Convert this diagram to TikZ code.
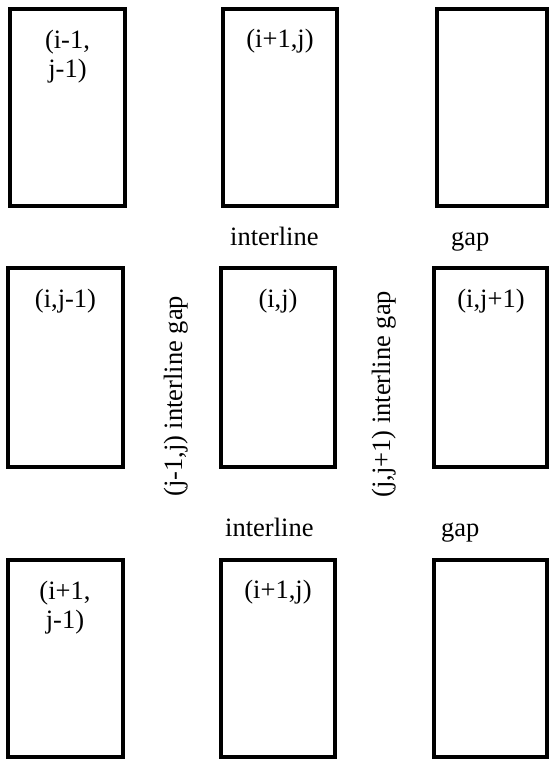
\documentclass[tikz,border=0pt]{standalone}
\usepackage{fontspec}
\setmainfont{Liberation Serif}
\begin{document}
\begin{tikzpicture}[x=1pt,y=-1pt,
  cell/.style 2 args={draw=black, line width=4pt, inner sep=0pt, minimum width=#1, minimum height=#2},
  lbl/.style={inner sep=0pt, anchor=base, font=\fontsize{26.5}{29}\selectfont},
  lbltwo/.style={inner sep=0pt, anchor=north, align=center, font=\fontsize{26.5}{29}\selectfont},
  vlbl/.style={inner sep=0pt, anchor=base west, rotate=90, font=\fontsize{26.5}{29}\selectfont}]
\useasboundingbox (0,0) rectangle (549,760);
% boxes
\node[cell={115pt}{197pt}] (a11) at (67.5,107.5) {};
\node[cell={114pt}{197pt}] (a12) at (280,107.5) {};
\node[cell={110pt}{197pt}] (a13) at (492,107.5) {};
\node[cell={115pt}{199pt}] (a21) at (65.5,367.5) {};
\node[cell={114pt}{199pt}] (a22) at (278,367.5) {};
\node[cell={113pt}{199pt}] (a23) at (490.5,367.5) {};
\node[cell={115pt}{197pt}] (a31) at (65.5,658.5) {};
\node[cell={114pt}{197pt}] (a32) at (278,658.5) {};
\node[cell={113pt}{197pt}] (a33) at (490.5,658.5) {};
% labels in boxes
\node[lbltwo] (t11) at (67.5,29.5) {(i-1,\\j-1)};
\node[lbl] (t12) at (280,48) {(i+1,j)};
\node[lbl] (t21) at (65.5,307) {(i,j-1)};
\node[lbl] (t22) at (278,307) {(i,j)};
\node[lbl] (t23) at (491,307) {(i,j+1)};
\node[lbltwo] (t31) at (65,580.5) {(i+1,\\j-1)};
\node[lbl] (t32) at (278,598) {(i+1,j)};
% gap labels
\node[lbl, anchor=base west] (g1) at (230,245) {interline};
\node[lbl, anchor=base west] (g2) at (451,245) {gap};
\node[lbl, anchor=base west] (g3) at (225,536) {interline};
\node[lbl, anchor=base west] (g4) at (441,536) {gap};
\node[vlbl] (v1) at (182,497) {(j-1,j) interline gap};
\node[vlbl] (v2) at (390,498) {(j,j+1) interline gap};
\end{tikzpicture}
\end{document}
